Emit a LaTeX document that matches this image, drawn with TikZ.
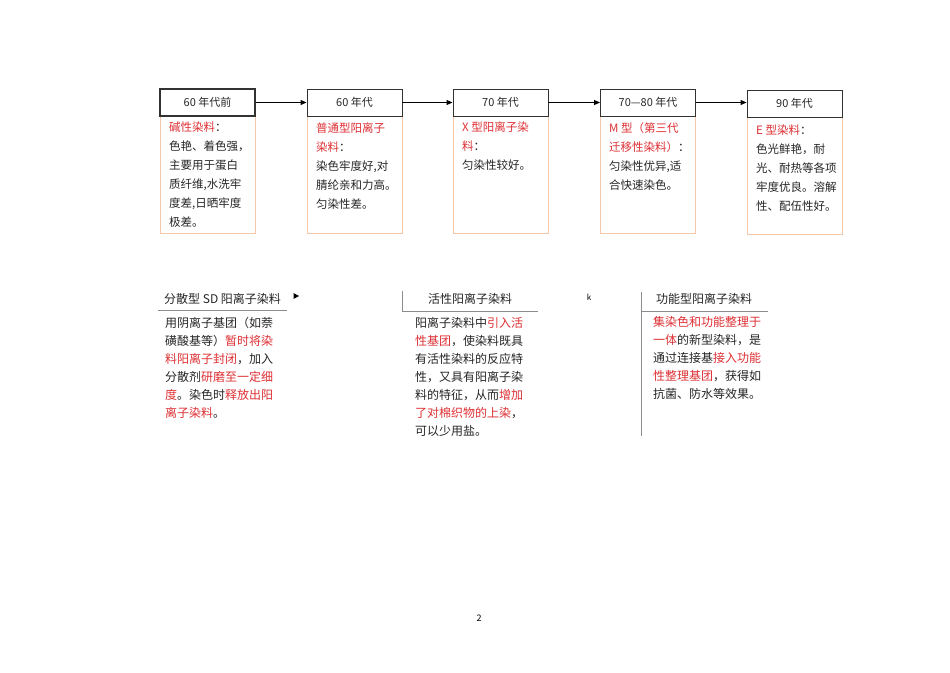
\documentclass[tikz,border=0pt]{standalone}
\usepackage{fontspec}
\setmainfont{Noto Sans CJK SC}
\usetikzlibrary{arrows.meta,calc}
\definecolor{hl}{RGB}{222,48,52}
\definecolor{peach}{RGB}{246,200,170}
\definecolor{hdrline}{RGB}{50,50,50}
\definecolor{rule}{RGB}{140,140,140}
\newcommand{\hl}[1]{\textcolor{hl}{#1}}
\tikzset{
  hdr/.style={draw=hdrline, line width=0.9pt, minimum width=95pt, minimum height=27pt, inner sep=0pt, font=\fontsize{11}{13}\selectfont, text=black!85},
  bodybox/.style={draw=peach, line width=0.9pt, minimum width=95pt, minimum height=117pt, inner sep=0pt, anchor=north},
  toptext/.style={anchor=north west, inner sep=0pt, align=left, font=\fontsize{11.5}{19}\selectfont, text=black!85},
  bottext/.style={anchor=north west, inner sep=0pt, align=left, font=\fontsize{12}{18}\selectfont, text=black!85},
  bottitle/.style={anchor=west, inner sep=0pt, font=\fontsize{12}{14}\selectfont, text=black!85},
  conn/.style={-{Triangle[length=6pt,width=5pt]}, line width=0.9pt, black},
  rulel/.style={draw=rule, line width=0.8pt}
}
\begin{document}
\begin{tikzpicture}[x=1pt,y=-1pt]
\useasboundingbox[fill=white] (0,0) rectangle (950,672);
\coordinate (c1) at (207.5,102.5);
\coordinate (c2) at (354.5,102.5);
\coordinate (c3) at (500.5,102.5);
\coordinate (c4) at (648,102.5);
\coordinate (c5) at (794.5,103.5);
% bodies
\node[bodybox] (b1) at ($(c1)+(0,13.5)$) {};
\node[bodybox] (b2) at ($(c2)+(0,13.5)$) {};
\node[bodybox] (b3) at ($(c3)+(0,13.5)$) {};
\node[bodybox] (b4) at ($(c4)+(0,13.5)$) {};
\node[bodybox] (b5) at ($(c5)+(0,13.5)$) {};
% headers
\node[hdr, line width=1.4pt] (h1) at (c1) {60 年代前};
\node[hdr] (h2) at (c2) {60 年代};
\node[hdr] (h3) at (c3) {70 年代};
\node[hdr] (h4) at (c4) {70—80 年代};
\node[hdr] (h5) at (c5) {90 年代};
% connectors
\draw[conn] (h1.east) -- (h2.west);
\draw[conn] (h2.east) -- (h3.west);
\draw[conn] (h3.east) -- (h4.west);
\draw[conn] (h4.east) -- (h4.east -| h5.west);
% top texts
\node[toptext] (t1) at (169,122) {\hl{碱性染料}：\\色艳、着色强，\\主要用于蛋白\\质纤维,水洗牢\\度差,日晒牢度\\极差。};
\node[toptext] (t2) at (316,123) {\hl{普通型阳离子}\\\hl{染料}：\\染色牢度好,对\\腈纶亲和力高。\\匀染性差。};
\node[toptext] (t3) at (462,122) {\hl{X 型阳离子染}\\\hl{料}：\\匀染性较好。};
\node[toptext] (t4) at (609,122) {\hl{M 型（第三代}\\\hl{迁移性染料）}：\\匀染性优异,适\\合快速染色。};
\node[toptext] (t5) at (756,125) {\hl{E 型染料}：\\色光鲜艳，耐\\光、耐热等各项\\牢度优良。溶解\\性、配伍性好。};
% bottom section 1
\node[bottitle] (s1) at (164,299) {分散型 SD 阳离子染料};
\coordinate (r1a) at (158,310);
\coordinate (r1b) at (287,310);
\draw[rulel] (r1a) -- (r1b);
\node[bottext] (p1) at (165,317) {用阴离子基团（如萘\\磺酸基等）\hl{暂时将染}\\\hl{料阳离子封闭}，加入\\分散剂\hl{研磨至一定细}\\\hl{度}。染色时\hl{释放出阳}\\\hl{离子染料}。};
\coordinate (tri) at (296,296);
\fill[black] ($(tri)+(-2.5,-3)$) -- ($(tri)+(3,0)$) -- ($(tri)+(-2.5,3)$) -- cycle;
% section 2
\coordinate (v2a) at (402,291);
\coordinate (v2b) at (402,311);
\coordinate (r2b) at (538,311);
\draw[rulel] (v2a) -- (v2b) -- (r2b);
\node[bottitle] (s2) at (428,299) {活性阳离子染料};
\node[bottext] (p2) at (415,317) {阳离子染料中\hl{引入活}\\\hl{性基团}，使染料既具\\有活性染料的反应特\\性，又具有阳离子染\\料的特征，从而\hl{增加}\\\hl{了对棉织物的上染}，\\可以少用盐。};
\node[anchor=center, inner sep=0pt, font=\fontsize{8}{9}\selectfont] (kk) at (589,297.5) {k};
% section 3
\coordinate (v3a) at (641,292);
\coordinate (v3b) at (641,436);
\coordinate (v3c) at (641,311);
\coordinate (r3b) at (768,311);
\draw[rulel] (v3a) -- (v3b);
\draw[rulel] (v3c) -- (r3b);
\node[bottitle] (s3) at (656,299) {功能型阳离子染料};
\node[bottext] (p3) at (653,316) {\hl{集染色和功能整理于}\\\hl{一体}的新型染料，是\\通过连接基\hl{接入功能}\\\hl{性整理基团}，获得如\\抗菌、防水等效果。};
% page number
\node[inner sep=0pt, font=\fontsize{9}{10}\selectfont] (pg) at (479,618) {2};
\end{tikzpicture}
\end{document}
